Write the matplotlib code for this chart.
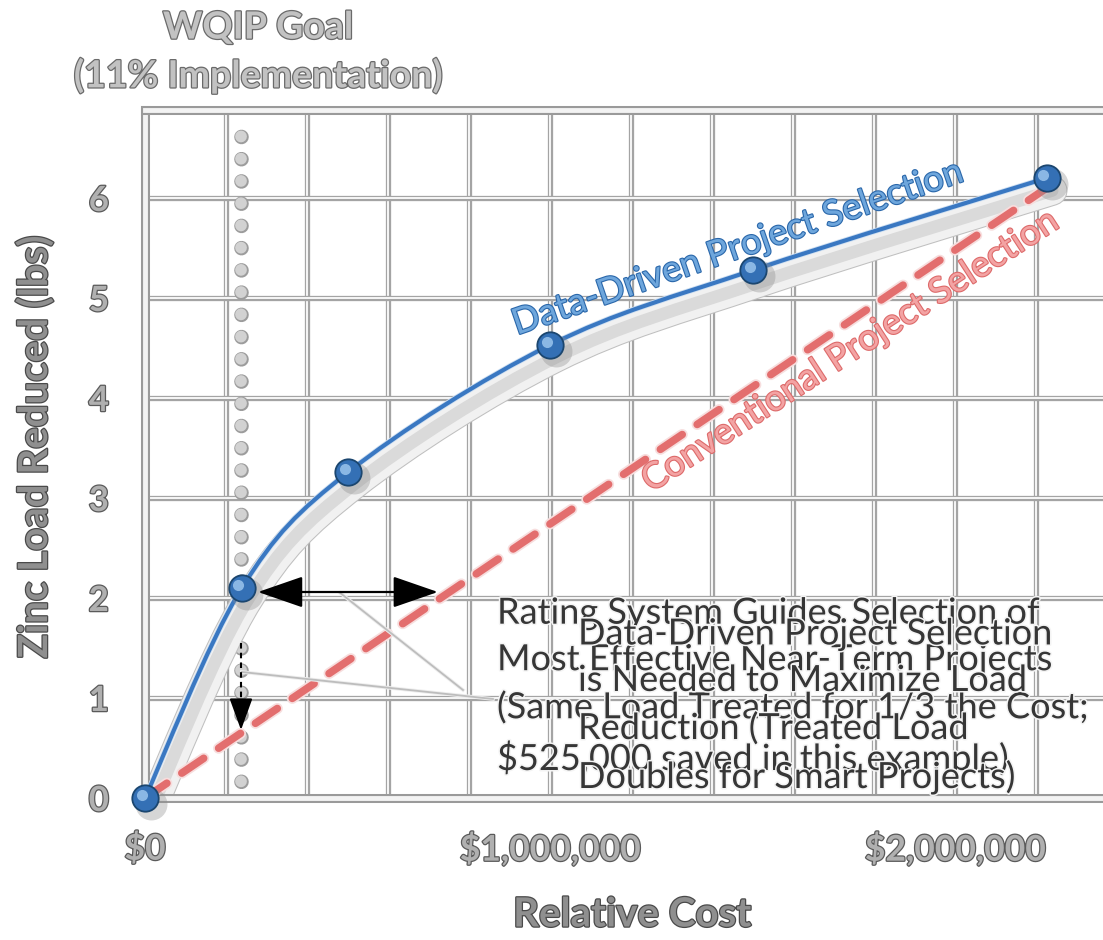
import numpy as np
import matplotlib
matplotlib.use("Agg")
import matplotlib.pyplot as plt
import matplotlib.patheffects as pe
from matplotlib.path import Path
from matplotlib.patches import PathPatch
from matplotlib.transforms import offset_copy

# Project cost vs. zinc load removed
cost = [0, 239000, 502000, 1000000, 1502000, 2226000]
load_data_driven = [0, 2.10, 3.26, 4.53, 5.28, 6.20]
conventional_cost = [0, 2226000]
load_conventional = [0, 6.10]
goal_cost = 237000

x_grid = [0, 200000, 400000, 600000, 800000, 1000000, 1200000,
          1400000, 1600000, 1800000, 2000000, 2200000]
x_labels = {0: "$0", 1000000: "$1,000,000", 2000000: "$2,000,000"}
y_ticks = [0, 1, 2, 3, 4, 5, 6]

guide_text = ("Rating System Guides Selection of\n"
              "Most Effective Near-Term Projects\n"
              "(Same Load Treated for 1/3 the Cost;\n"
              "$525,000 saved in this example)")
needed_text = ("Data-Driven Project Selection\n"
               "is Needed to Maximize Load\n"
               "Reduction (Treated Load\n"
               "Doubles for Smart Projects)")

FONT = ["Lato", "DejaVu Sans"]
plt.rcParams["font.family"] = FONT
plt.rcParams["lines.scale_dashes"] = False


def embossed(fill="#a8a8a8", edge="#555555", w=1.6):
    return dict(color=fill, path_effects=[pe.Stroke(linewidth=w, foreground=edge), pe.Normal()])


def smooth_path(xs, ys):
    # Catmull-Rom style bezier through the points (like a smoothed Excel line)
    pts = np.column_stack([xs, ys]).astype(float)
    n = len(pts)
    verts = [pts[0]]
    codes = [Path.MOVETO]
    for i in range(n - 1):
        p0 = pts[max(i - 1, 0)]
        p1 = pts[i]
        p2 = pts[i + 1]
        p3 = pts[min(i + 2, n - 1)]
        verts += [p1 + (p2 - p0) / 6, p2 - (p3 - p1) / 6, p2]
        codes += [Path.CURVE4] * 3
    return Path(verts, codes)


fig = plt.figure(figsize=(11.03, 9.40), dpi=100)
ax = fig.add_axes([145 / 1103, 1 - 798 / 940, 1 - 145 / 1103, (798 - 110) / 940])
ax.set_xlim(0, 2365000)
ax.set_ylim(0, 6.88)

# grid drawn as a double line
ax.set_xticks(x_grid)
ax.set_xticklabels([x_labels.get(v, "") for v in x_grid])
ax.set_yticks(y_ticks)
ax.grid(True, color="#f7f7f7", lw=1.4, zorder=0,
        path_effects=[pe.Stroke(linewidth=3.8, foreground="#a4a4a4"), pe.Normal()])
ax.set_axisbelow(True)
ax.tick_params(length=0)
ax.tick_params(axis="x", pad=25, labelsize=25.5)
ax.tick_params(axis="y", pad=26, labelsize=25)
for lab in ax.get_xticklabels() + ax.get_yticklabels():
    lab.set_fontweight("bold")
    lab.set_color("#b0b0b0")
    lab.set_path_effects([pe.Stroke(linewidth=1.8, foreground="#5a5a5a"), pe.Normal()])

for side in ["left", "bottom", "top"]:
    sp = ax.spines[side]
    sp.set_color("#f3f3f3")
    sp.set_linewidth(3.5)
    sp.set_path_effects([pe.Stroke(linewidth=6.5, foreground="#9a9a9a"), pe.Normal()])
ax.spines["right"].set_visible(False)

# WQIP goal marker line
ax.axvline(goal_cost, ymax=0.985, color="#d2d2d2", lw=8.5, linestyle=(4, (0.01, 16)),
           dash_capstyle="round", zorder=1,
           path_effects=[pe.Stroke(linewidth=10.5, foreground="#9c9c9c"), pe.Normal()])

curve = smooth_path(cost, load_data_driven)

# soft shadow under the data-driven curve
shadow_tr = offset_copy(ax.transData, fig=fig, x=4, y=-9, units="points")
ax.add_patch(PathPatch(curve, fill=False, transform=shadow_tr, edgecolor="#dadada", lw=9,
                       capstyle="round", joinstyle="round", zorder=2,
                       path_effects=[pe.Stroke(linewidth=22, foreground="#c0c0c0"),
                                     pe.Stroke(linewidth=20.5, foreground="#f1f1f1"),
                                     pe.Normal()]))

# conventional selection
ax.plot(conventional_cost, load_conventional, color="#e36e6e", lw=5.5,
        linestyle=(0, (19, 13)), dash_capstyle="round", zorder=3,
        path_effects=[pe.Stroke(linewidth=8, foreground="#f7dede"), pe.Normal()])

# data-driven selection
ax.add_patch(PathPatch(curve, fill=False, edgecolor="#3a78c2", lw=3, zorder=4,
                       path_effects=[pe.Stroke(linewidth=4.2, foreground="#cfe0f2"), pe.Normal()]))

# sphere markers
mshadow = offset_copy(ax.transData, fig=fig, x=4, y=-4, units="points")
ax.plot(cost, load_data_driven, "o", ms=23, color="#8c8c8c", alpha=0.35, mec="none",
        transform=mshadow, zorder=5, clip_on=False)
ax.plot(cost, load_data_driven, "o", ms=19, color="#3470b5", mec="#1b466f", mew=1.3,
        zorder=6, clip_on=False)
mhi = offset_copy(ax.transData, fig=fig, x=-2.5, y=2.5, units="points")
ax.plot(cost, load_data_driven, "o", ms=8, color="#a8d0f4", alpha=0.75, mec="none",
        transform=mhi, zorder=7, clip_on=False)

# arrows showing cost saving and load gain
ax.annotate("", xy=(279000, 2.06), xytext=(723000, 2.06),
            arrowprops=dict(arrowstyle="<|-|>,head_length=1.3,head_width=0.45",
                            color="black", lw=1.6, mutation_scale=22,
                            shrinkA=0, shrinkB=0), zorder=8)
ax.plot([goal_cost, goal_cost], [1.55, 0.80], color="black", lw=1.5,
        linestyle=(0, (4, 3)), zorder=8)
ax.annotate("", xy=(goal_cost, 0.68), xytext=(goal_cost, 0.82),
            arrowprops=dict(arrowstyle="-|>,head_length=1.1,head_width=0.4",
                            color="black", lw=1.5, mutation_scale=18,
                            shrinkA=0, shrinkB=0), zorder=8)

# callout leader lines
for xs, ys in [([482000, 785000], [2.05, 1.08]), ([239000, 859000], [1.26, 0.99])]:
    ax.plot(xs, ys, color="#bdbdbd", lw=1.3, zorder=3,
            path_effects=[pe.Stroke(linewidth=2.6, foreground="#eeeeee"), pe.Normal()])

# series labels along the lines
ax.text(1462000, 5.50, "Data-Driven Project Selection", rotation=19, ha="center", va="center",
        fontsize=26, zorder=9, **embossed("#6ea6dc", "#2a67aa", 1.6))
ax.text(1740000, 4.47, "Conventional Project Selection", rotation=33, ha="center", va="center",
        fontsize=26, zorder=9, **embossed("#f3a3a3", "#dd6a6a", 1.6))

# overlapping callout texts (last-line baseline anchors)
callout_style = dict(color="#363636", fontsize=26, linespacing=1.5, zorder=10,
                     path_effects=[pe.Stroke(linewidth=2.2, foreground="#f4f4f4"), pe.Normal()])
ax.text(869000, 0.28, guide_text, ha="left", va="baseline", **callout_style)
ax.text(1069000, 0.10, needed_text, ha="left", va="baseline", **callout_style)

# titles and axis labels
fig.text(258 / 1103, 1 - 52 / 940, "WQIP Goal\n(11% Implementation)", ha="center", va="center",
         fontsize=27, fontweight="bold", linespacing=1.42, **embossed("#c2c2c2", "#6a6a6a", 1.8))
fig.text(35 / 1103, 1 - 447 / 940, "Zinc Load Reduced (lbs)", rotation=90, ha="center",
         va="center", fontsize=29, fontweight="bold", **embossed("#8f8f8f", "#4a4a4a", 1.8))
fig.text(632 / 1103, 1 - 915 / 940, "Relative Cost", ha="center", va="center",
         fontsize=29, fontweight="bold", **embossed("#8f8f8f", "#4a4a4a", 1.8))

fig.savefig("out.png", dpi=100)
